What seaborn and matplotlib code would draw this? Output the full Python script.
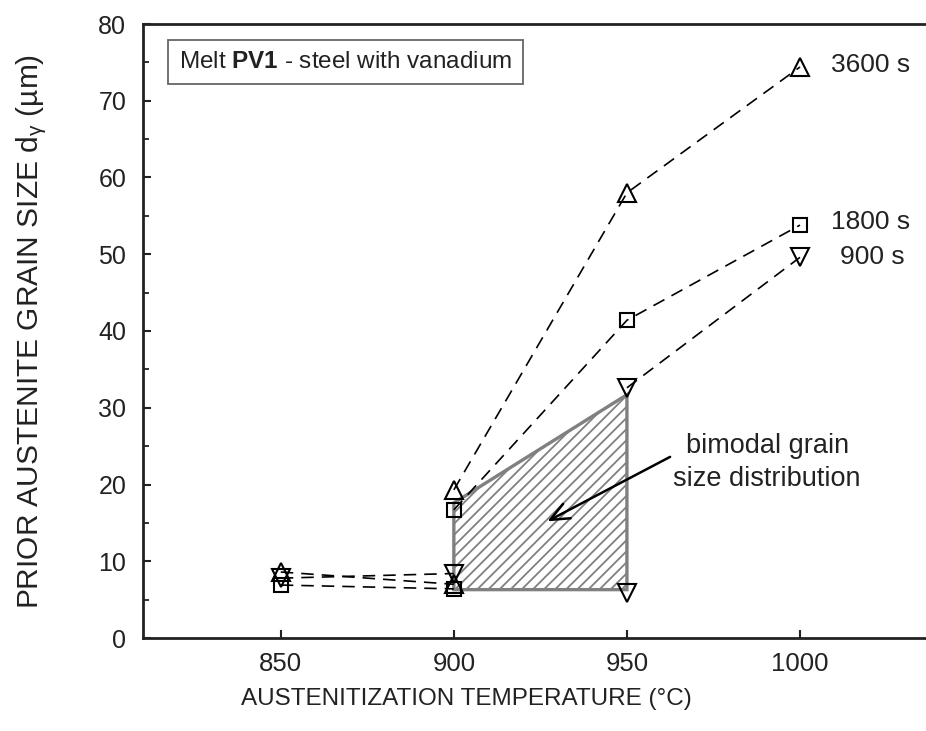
import matplotlib
matplotlib.use("Agg")
import matplotlib.pyplot as plt
import seaborn as sns
import pandas as pd

# Austenitization temperatures (°C)
temps_fine = [850, 900]
temps_coarse = [900, 950, 1000]

# Prior austenite grain size (µm), fine-grain branch 850 -> 900 °C
fine_3600 = [8.6, 7.0]
fine_1800 = [6.9, 6.4]
fine_900 = [7.8, 8.4]

# Coarse-grain branch 900 -> 1000 °C
coarse_3600 = [19.3, 58.0, 74.4]
coarse_1800 = [16.7, 41.4, 53.8]
temps_coarse_900 = [950, 1000]
coarse_900 = [32.6, 49.6]

# Fine grains still present at 950 °C after 900 s
temps_fine_950 = [950]
fine_950_900 = [5.9]

# Outline of the bimodal region (temperature, grain size)
bimodal_temps = [900, 900, 950, 950]
bimodal_sizes = [6.3, 17.6, 31.7, 6.3]

series_labels = ["3600 s", "1800 s", "900 s"]

sns.set_theme(style="ticks")
plt.rcParams["font.family"] = ["Liberation Sans", "DejaVu Sans"]
plt.rcParams["mathtext.fontset"] = "custom"
plt.rcParams["mathtext.rm"] = "Liberation Sans"
plt.rcParams["mathtext.it"] = "Liberation Sans"
plt.rcParams["mathtext.bf"] = "Liberation Sans:bold"
plt.rcParams["hatch.linewidth"] = 1.3

txt = "#222222"
fig = plt.figure(figsize=(9.26, 7.31), dpi=100)
ax = fig.add_axes([143 / 926, 1 - 638 / 731, 783 / 926, 614 / 731])

# bimodal region
ax.fill(bimodal_temps, bimodal_sizes, facecolor="white", edgecolor="#808080",
        hatch="///", linewidth=2.4, zorder=2)

marker_size = {"^": 13.5, "v": 13.5, "s": 10.5}
line_kw = dict(color="black", linewidth=1.2, linestyle=(0, (7.5, 4.8)),
               markerfacecolor="none", markeredgecolor="black",
               markeredgewidth=1.5, estimator=None, sort=False, legend=False,
               zorder=3)

branches = [
    (temps_fine, fine_3600, "^"),
    (temps_fine, fine_1800, "s"),
    (temps_fine, fine_900, "v"),
    (temps_coarse, coarse_3600, "^"),
    (temps_coarse, coarse_1800, "s"),
    (temps_coarse_900, coarse_900, "v"),
    (temps_fine_950, fine_950_900, "v"),
]
for xs, ys, mk in branches:
    df = pd.DataFrame({"T": xs, "d": ys})
    sns.lineplot(data=df, x="T", y="d", marker=mk, markersize=marker_size[mk],
                 ax=ax, **line_kw)

# series labels at the 1000 °C end
label_pos = [(1009, 74.6), (1009, 54.2), (1011.5, 49.6)]
for lab, (lx, ly) in zip(series_labels, label_pos):
    ax.text(lx, ly, lab, fontsize=19, color=txt, ha="left", va="center")

# info box
ax.text(820.6, 75.0, r"Melt $\mathbf{PV1}$ - steel with vanadium",
        fontsize=17.5, color=txt, ha="left", va="center",
        bbox=dict(boxstyle="square,pad=0.45", facecolor="white",
                  edgecolor="#666666", linewidth=1.3))

# annotation for the hatched region
ax.annotate("bimodal grain\nsize distribution", xy=(927, 15.2),
            xytext=(990.5, 22.9), fontsize=19.5, color=txt, ha="center",
            va="center", linespacing=1.35,
            arrowprops=dict(arrowstyle="->,head_length=0.7,head_width=0.3",
                            color="black", linewidth=1.8,
                            shrinkA=0, shrinkB=0, relpos=(0.0, 0.62)))

ax.set_xlim(810.2, 1036.4)
ax.set_ylim(0, 80)
ax.set_xticks([850, 900, 950, 1000])
ax.set_yticks(range(0, 81, 10))
ax.set_yticks(range(5, 80, 10), minor=True)
ax.tick_params(axis="both", which="major", direction="in", length=6,
               width=1.5, labelcolor=txt, color=txt, pad=10)
ax.tick_params(axis="x", which="major", labelsize=18.5)
ax.tick_params(axis="y", which="major", labelsize=18, pad=12)
ax.tick_params(axis="y", which="minor", direction="in", length=4, width=1.3,
               color=txt)

for side in ["left", "bottom", "top"]:
    ax.spines[side].set_linewidth(2.0)
    ax.spines[side].set_color(txt)
ax.spines["right"].set_visible(False)

ax.set_xlabel("AUSTENITIZATION TEMPERATURE (°C)", fontsize=17.5, color=txt)
ax.set_ylabel(r"PRIOR AUSTENITE GRAIN SIZE d$_{\gamma}$ (µm)", fontsize=21.5,
              color=txt)
ax.xaxis.set_label_coords(0.4125, -0.082)
ax.yaxis.set_label_coords(-0.12, 0.5)

fig.savefig("out.png", dpi=100)
